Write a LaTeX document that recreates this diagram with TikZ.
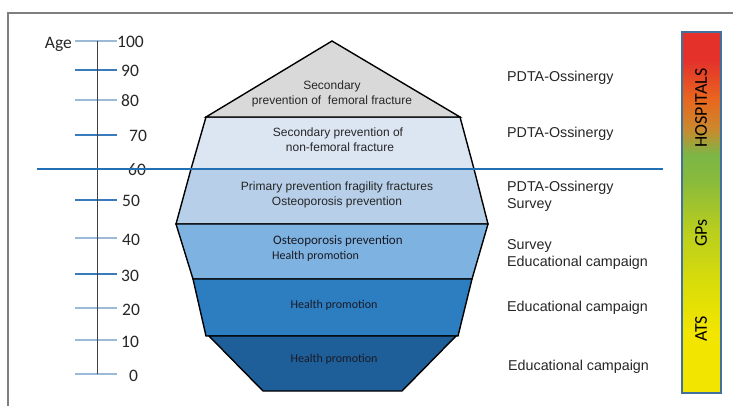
\documentclass[tikz,border=0pt]{standalone}
\usepackage{fontspec}
\setmainfont{Liberation Sans}
\newfontfamily\calfont{Carlito}
\definecolor{frameGray}{HTML}{7F7F7F}
\definecolor{tickL}{HTML}{9DB9D8}
\definecolor{tickD}{HTML}{3A7BBD}
\definecolor{hBlue}{HTML}{2170B4}
\definecolor{layA}{HTML}{D9D9D9}
\definecolor{layB}{HTML}{DCE6F2}
\definecolor{layC}{HTML}{B7CFE8}
\definecolor{layD}{HTML}{7EB2E0}
\definecolor{layE}{HTML}{2D7EC1}
\definecolor{layF}{HTML}{1E5F99}
\definecolor{txtG}{HTML}{262626}
\definecolor{txtK}{HTML}{1A1A24}
\definecolor{barEdge}{HTML}{41719C}
\definecolor{bRed}{HTML}{E4322B}
\definecolor{bOrange}{HTML}{E8671F}
\definecolor{bBrown}{HTML}{C98A2E}
\definecolor{bGreen}{HTML}{7DB646}
\definecolor{bGreenB}{HTML}{88BA3C}
\definecolor{bLime}{HTML}{B9CE1E}
\definecolor{bLimeY}{HTML}{DCDE08}
\definecolor{bYellow}{HTML}{F2E500}
\pgfdeclareverticalshading{barshade}{100bp}{color(0bp)=(bYellow); color(25bp)=(bYellow); color(33.5bp)=(bYellow); color(39.5bp)=(bLimeY); color(47.5bp)=(bLime); color(54.5bp)=(bGreenB); color(58bp)=(bGreen); color(61.5bp)=(bBrown); color(65.6bp)=(bOrange); color(71bp)=(bRed); color(75bp)=(bRed); color(100bp)=(bRed)}
\begin{document}
\begin{tikzpicture}[x=1pt,y=-1pt,
  frame/.style={draw=frameGray, line width=1.5pt},
  axisline/.style={draw=black!75, line width=0.9pt},
  agelbl/.style={font=\calfont\fontsize{17.5}{19}\selectfont, text=txtG, inner sep=0pt},
  layer/.style={draw=black, line width=1.4pt, line join=miter},
  ptxt/.style={font=\fontsize{12}{14}\selectfont, text=txtG, inner sep=0pt, anchor=mid},
  ctxt/.style={font=\calfont\fontsize{12}{14}\selectfont, text=txtK, inner sep=0pt},
  rtxt/.style={font=\fontsize{14.3}{16}\selectfont, text=txtG, inner sep=0pt, anchor=mid west},
  hline/.style={draw=hBlue, line width=2.2pt},
  bartxt/.style={font=\calfont\fontsize{18}{20}\selectfont, text=black, inner sep=0pt, rotate=90, anchor=center}
]
\useasboundingbox (0,0) rectangle (733,406);
% frame
\draw[frame] (8,406) -- (8,13) -- (733,13);

% age axis
\coordinate (axT) at (97,41);
\coordinate (axB) at (97,374);
\foreach \v/\y/\c/\lx in {100/41/tickL/117, 90/70/tickD/121, 80/100/tickL/121, 70/135/tickD/129, 60/169/tickD/128, 50/200/tickD/122, 40/238/tickL/122, 30/274/tickD/121, 20/308/tickL/122, 10/340/tickL/121, 0/374/tickL/129}{
  \draw[\c, line width=1.2pt] (75,\y) -- (117,\y);
  \node[agelbl, anchor=base west] (age\v) at (\lx,\y+7) {\v};
}
\draw[axisline] (axT) -- (axB);
\node[agelbl, anchor=base east] (agetitle) at (72,49) {Age};

% pyramid vertices
\coordinate (apex) at (332,41);
\coordinate (l1) at (206,117); \coordinate (r1) at (460,117);
\coordinate (l2) at (191,169); \coordinate (r2) at (474,169);
\coordinate (l3) at (176,224); \coordinate (r3) at (488,224);
\coordinate (l4) at (193,279); \coordinate (r4) at (472,279);
\coordinate (l5) at (206,336); \coordinate (r5) at (458,336);
\coordinate (l5b) at (209,336); \coordinate (r5b) at (456,336);
\coordinate (l6) at (263,391); \coordinate (r6) at (402,391);

\fill[layB] (l1) -- (r1) -- (r2) -- (l2) -- cycle;
\fill[layC] (l2) -- (r2) -- (r3) -- (l3) -- cycle;
\draw[layer] (l1) -- (r1) -- (r2) -- (r3) -- (l3) -- (l2) -- cycle;
\draw[layer, fill=layA] (apex) -- (r1) -- (l1) -- cycle;
\draw[layer, fill=layD] (l3) -- (r3) -- (r4) -- (l4) -- cycle;
\draw[layer, fill=layE] (l4) -- (r4) -- (r5) -- (l5) -- cycle;
\draw[layer, fill=layF] (l5b) -- (r5b) -- (r6) -- (l6) -- cycle;

% pyramid texts
\node[ptxt] (t1a) at (332,87) {Secondary};
\node[ptxt] (t1b) at (332,102) {prevention of\ \ femoral fracture};
\node[ptxt] (t2a) at (338,134) {Secondary prevention of};
\node[ptxt] (t2b) at (340,149) {non-femoral fracture};
\node[ptxt] (t3a) at (337,188) {Primary prevention fragility fractures};
\node[ptxt] (t3b) at (337,203) {Osteoporosis prevention};
\node[ctxt, anchor=mid west, font=\calfont\fontsize{13}{15}\selectfont] (t4a) at (273,242) {Osteoporosis prevention};
\node[ctxt, anchor=mid west] (t4b) at (272,257) {Health promotion};
\node[ctxt, anchor=mid] (t5) at (334,306) {Health promotion};
\node[ctxt, anchor=mid] (t6) at (334,360) {Health promotion};

% threshold line
\coordinate (hl) at (37,169);
\coordinate (hr) at (663,169);
\draw[hline] (hl) -- (hr);

% right texts
\node[rtxt] (r1t) at (507,79) {PDTA-Ossinergy};
\node[rtxt] (r2t) at (507,135) {PDTA-Ossinergy};
\node[rtxt] (r3t) at (507,189) {PDTA-Ossinergy};
\node[rtxt] (r3u) at (507,206) {Survey};
\node[rtxt] (r4t) at (507,247) {Survey};
\node[rtxt] (r4u) at (507,264) {Educational campaign};
\node[rtxt] (r5t) at (507,309) {Educational campaign};
\node[rtxt] (r6t) at (508,368) {Educational campaign};

% colour bar
\shade[shading=barshade] (682,32) rectangle (721,393);
\draw[draw=barEdge, line width=1.5pt] (682,32) rectangle (721,393);
\node[bartxt] (hosp) at (701,108) {HOSPITALS};
\node[bartxt] (gps) at (701,233) {GPs};
\node[bartxt] (ats) at (701,329) {ATS};
\end{tikzpicture}
\end{document}
